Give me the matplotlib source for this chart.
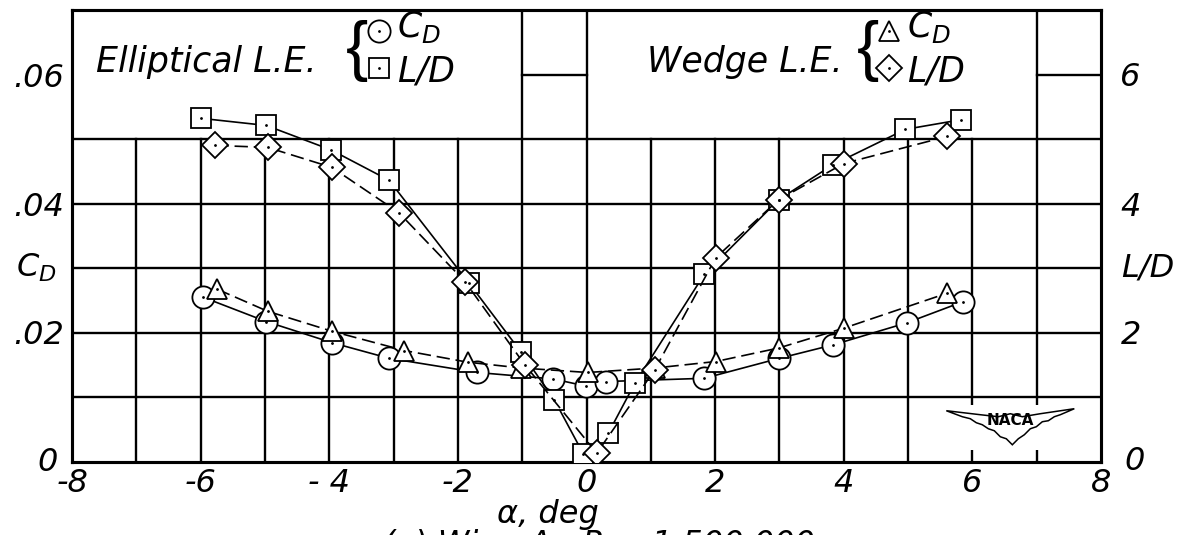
import matplotlib
matplotlib.use("Agg")
import matplotlib.pyplot as plt
from matplotlib.patches import Polygon, Rectangle

plt.rcParams['font.family'] = ['DejaVu Sans']
plt.rcParams['mathtext.fontset'] = 'dejavusans'

# Elliptical leading edge
ell_cd_alpha = [-5.97, -4.98, -3.95, -3.07, -1.70, -0.52, -0.01, 0.31, 1.83, 3.00, 3.84, 4.98, 5.86]
ell_cd = [0.0255, 0.0217, 0.0184, 0.0160, 0.0138, 0.0128, 0.0117, 0.0124, 0.0129, 0.0160, 0.0181, 0.0215, 0.0248]
ell_ld_alpha = [-5.99, -4.98, -3.97, -3.07, -1.83, -1.02, -0.50, -0.05, 0.34, 0.75, 1.83, 2.99, 3.83, 4.96, 5.83]
ell_ld = [5.32, 5.21, 4.83, 4.36, 2.77, 1.70, 0.955, 0.12, 0.44, 1.21, 2.90, 4.06, 4.60, 5.15, 5.30]

# Wedge leading edge
wedge_cd_alpha = [-5.74, -4.96, -3.96, -2.83, -1.85, -1.02, 0.02, 1.07, 2.01, 2.99, 4.01, 5.61]
wedge_cd = [0.0267, 0.0233, 0.0202, 0.0172, 0.0154, 0.0145, 0.0138, 0.0145, 0.0155, 0.0176, 0.0207, 0.0261]
wedge_ld_alpha = [-5.77, -4.96, -3.96, -2.92, -1.89, -0.96, 0.16, 1.06, 2.01, 2.99, 4.00, 5.61]
wedge_ld = [4.90, 4.87, 4.56, 3.86, 2.79, 1.50, 0.13, 1.42, 3.16, 4.06, 4.62, 5.04]

x_ticks = [-8, -6, -4, -2, 0, 2, 4, 6, 8]
x_labels = ['-8', '-6', '- 4', '-2', '0', '2', '4', '6', '8']
cd_ticks = [0.02, 0.04, 0.06]
cd_labels = ['.02', '.04', '.06']
ld_ticks = [2, 4, 6]
ld_labels = ['2', '4', '6']

tfont = dict(style='oblique', fontsize=23)
kfont = dict(style='oblique', fontsize=25)

fig = plt.figure(figsize=(11.81, 5.35), dpi=100)
ax = fig.add_axes([72 / 1181, (535 - 461.5) / 535, (1101 - 72) / 1181, 451.5 / 535])
ax.set_xlim(-8, 8)
ax.set_ylim(0, 0.07)
for s in ax.spines.values():
    s.set_linewidth(2.2)

# grid (hand-ruled, interrupted by the key boxes)
glw = 1.7
for xv in range(-7, 8):
    top = 0.07 if xv in (-1, 0, 7) else 0.05
    ax.plot([xv, xv], [0, top], color='black', lw=glw, zorder=1)
for yv in [0.01, 0.02, 0.03, 0.04, 0.05]:
    ax.plot([-8, 8], [yv, yv], color='black', lw=glw, zorder=1)
ax.plot([-1, 0], [0.06, 0.06], color='black', lw=glw, zorder=1)
ax.plot([7, 8], [0.06, 0.06], color='black', lw=glw, zorder=1)
ax.add_patch(Rectangle((5.3, 0.0018), 2.65, 0.007, facecolor='white', edgecolor='none', zorder=2))

ax.set_xticks(x_ticks)
ax.set_xticklabels(x_labels, **tfont)
ax.set_yticks(cd_ticks)
ax.set_yticklabels(cd_labels, **tfont)
ax.tick_params(axis='x', length=0, pad=5)
ax.tick_params(axis='y', length=0, pad=6)

mk = dict(markerfacecolor='white', markeredgecolor='black', markeredgewidth=1.3, color='black', lw=1.2)
dash = (8, 3.5)

ax.plot(ell_cd_alpha, ell_cd, marker='o', ms=16, zorder=4, **mk)
ax.plot(ell_cd_alpha, ell_cd, '.', color='black', ms=2, zorder=5)
ax.plot(wedge_cd_alpha, wedge_cd, marker='^', ms=14, ls=(0, dash), zorder=4, **mk)
ax.plot(wedge_cd_alpha, wedge_cd, '.', color='black', ms=2, zorder=5)

ax2 = ax.twinx()
ax2.set_ylim(0, 7)
ax2.set_yticks(ld_ticks)
ax2.set_yticklabels(ld_labels, **tfont)
ax2.tick_params(axis='y', length=0, pad=14)
for s in ax2.spines.values():
    s.set_linewidth(2.2)

ax2.plot(ell_ld_alpha, ell_ld, marker='s', ms=15, zorder=4, **mk)
ax2.plot(ell_ld_alpha, ell_ld, '.', color='black', ms=2, zorder=5)
ax2.plot(wedge_ld_alpha, wedge_ld, marker='D', ms=13.5, ls=(0, dash), zorder=4, **mk)
ax2.plot(wedge_ld_alpha, wedge_ld, '.', color='black', ms=2, zorder=5)

# key boxes
ax2.text(-7.62, 6.2, 'Elliptical L.E.', ha='left', va='center', **kfont)
ax2.text(0.94, 6.2, 'Wedge L.E.', ha='left', va='center', **kfont)
for bx in (-3.57, 4.38):
    ax2.text(bx, 6.36, '{', ha='center', va='center', fontsize=48,
             family=['Liberation Sans', 'DejaVu Sans'])
key = [(-3.23, 'o', 16, '$C_D$'), (-3.23, 's', 15, 'L/D'), (4.70, '^', 14, '$C_D$'), (4.70, 'D', 13.5, 'L/D')]
for i, (kx, m, ms, lab) in enumerate(key):
    ky = 6.68 if i % 2 == 0 else 6.1
    ax2.plot([kx], [ky], marker=m, ms=ms, ls='none', markerfacecolor='white',
             markeredgecolor='black', markeredgewidth=1.3, clip_on=False, zorder=6)
    ax2.plot([kx], [ky], '.', color='black', ms=2, zorder=7)
    ax2.text(kx + 0.28, ky + (0.05 if i % 2 == 0 else -0.05), lab, ha='left', va='center', **kfont)

# axis titles and corner zeros
ax.text(-8.38, -0.0002, '0', ha='center', va='center', **tfont)
ax.text(8.53, 0.0, '0', ha='center', va='center', **tfont)
ax.text(-8.55, 0.030, '$C_D$', ha='center', va='center', **tfont)
ax.text(8.72, 0.030, 'L/D', ha='center', va='center', **tfont)
ax.text(-0.6, -0.0082, 'α, deg', ha='center', va='center', **tfont)
ax.text(0.2, -0.0104, '(a) Wing A;  R = 1,500,000', ha='center', va='top', clip_on=False, **tfont)

# NACA emblem
cx, cy = 6.59, 0.0057
sx, sy = 1 / 64.3, -0.01 / 64.4
wing = [(-64, -14), (-30, -10), (-12, -8), (0, -11), (12, -8), (30, -11), (64, -16),
        (50, -10), (44, -8), (38, -4), (32, -3), (26, 2), (20, 4), (14, 10), (8, 14),
        (2, 20), (-4, 14), (-10, 12), (-16, 6), (-22, 4), (-28, 0), (-34, -2),
        (-40, -6), (-48, -8), (-56, -11)]
ax.add_patch(Polygon([(cx + px * sx, cy + py * sy) for px, py in wing], closed=True,
                     facecolor='white', edgecolor='black', lw=1.1, zorder=3))
ax.text(cx, cy + 0.0007, 'NACA', ha='center', va='center', fontsize=11,
        family='DejaVu Sans', weight='bold', zorder=4)

fig.savefig('out.png', dpi=100)
